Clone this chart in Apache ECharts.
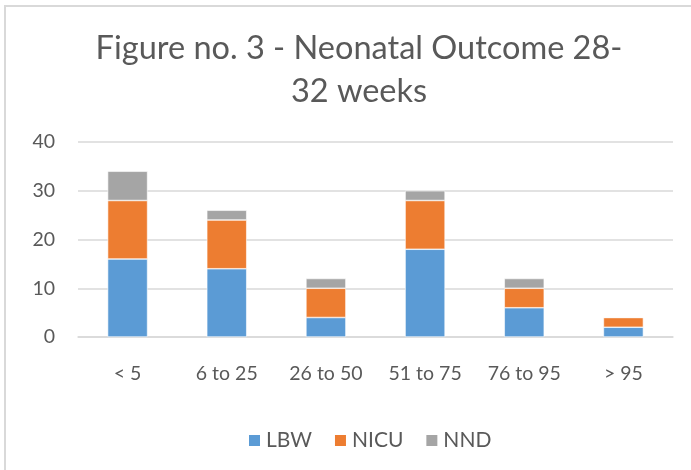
<!DOCTYPE html>
<html><head><meta charset="utf-8">
<script src="https://cdn.jsdelivr.net/npm/echarts@6/dist/echarts.min.js"></script>
<style>html,body{margin:0;padding:0;background:#fff}#c{width:691px;height:470px}</style>
</head><body><div id="c"></div>
<script>
const categories = ['< 5', '6 to 25', '26 to 50', '51 to 75', '76 to 95', '> 95'];
const lbw  = [16, 14, 4, 18, 6, 2];
const nicu = [12, 10, 6, 10, 4, 2];
const nnd  = [6, 2, 2, 2, 2, 0];
const yTicks = [0, 10, 20, 30, 40];

const chart = echarts.init(document.getElementById('c'));
const font = 'Lato';
const txt = '#595959';
const mk = (name, data, color) => ({
  name, type: 'bar', stack: 'a', data, barWidth: 40,
  itemStyle: { color, borderColor: '#fff', borderWidth: 0.6 },
  emphasis: { disabled: true }
});
chart.setOption({
  animation: false,
  graphic: [{ type: 'rect', shape: { x: 5, y: 6, width: 720, height: 480 },
    style: { fill: 'none', stroke: '#d9d9d9', lineWidth: 2 }, silent: true }],
  title: { text: 'Figure no. 3 - Neonatal Outcome 28-\n32 weeks', left: 354, textAlign: 'center', top: 22,
    textStyle: { fontFamily: font, fontSize: 32.5, fontWeight: 'normal', color: txt, lineHeight: 43 } },
  legend: { top: 425, left: 242, itemWidth: 13, itemHeight: 13, itemGap: 21, icon: 'rect',
    textStyle: { fontFamily: font, fontSize: 21, color: txt } },
  grid: { left: 78, right: 18, top: 142, bottom: 133 },
  xAxis: { type: 'category', data: categories,
    axisLine: { lineStyle: { color: '#d9d9d9', width: 1.5 } }, axisTick: { show: false },
    axisLabel: { fontFamily: font, fontSize: 19.5, color: txt, margin: 27 } },
  yAxis: { type: 'value', min: yTicks[0], max: yTicks[yTicks.length - 1], interval: 10,
    axisLine: { show: false }, axisTick: { show: false },
    splitLine: { lineStyle: { color: '#d9d9d9', width: 1.5 } },
    axisLabel: { fontFamily: font, fontSize: 19.5, color: txt, margin: 23 } },
  series: [mk('LBW', lbw, '#5b9bd5'), mk('NICU', nicu, '#ed7d31'), mk('NND', nnd, '#a5a5a5')]
});
</script></body></html>
